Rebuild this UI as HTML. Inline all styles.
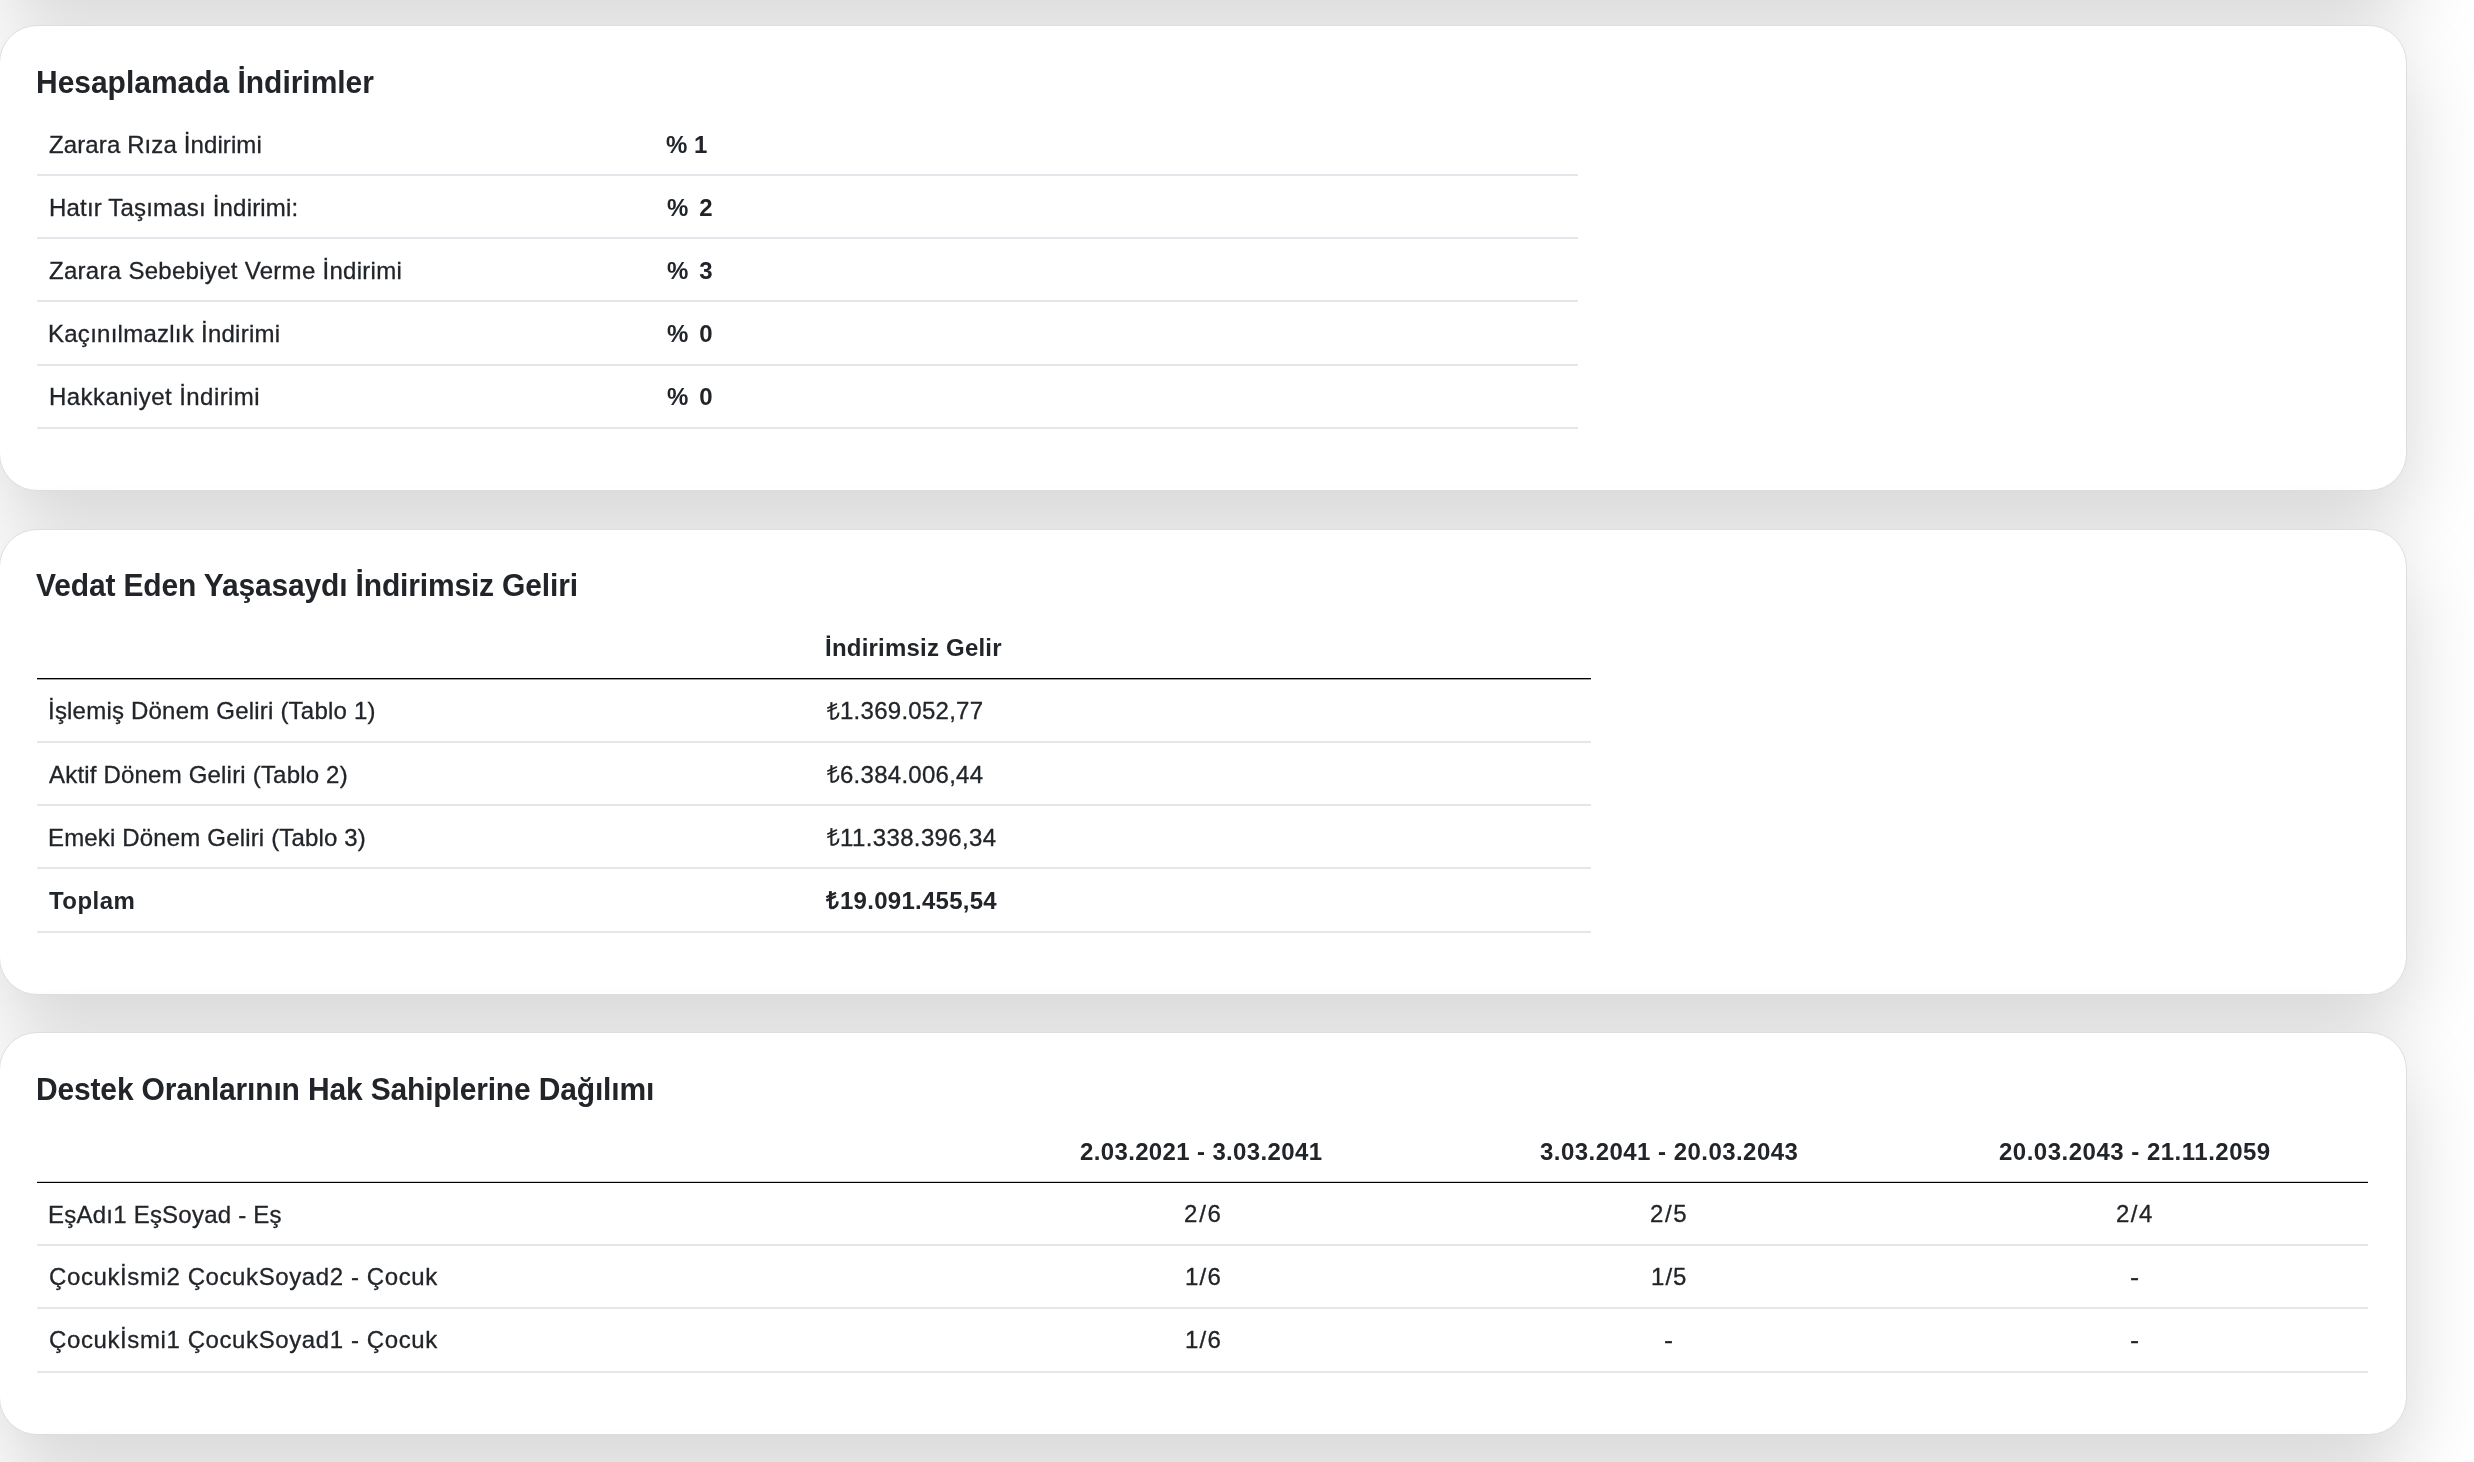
<!DOCTYPE html>
<html lang="tr"><head><meta charset="utf-8"><title>Hesaplama</title>
<style>
html,body{margin:0;padding:0}
body{width:2474px;height:1462px;overflow:hidden;background:#fff;position:relative;font-family:"Liberation Sans",sans-serif;color:#212529}
.card{position:absolute;left:-1px;width:2406px;background:#fff;border:1px solid #dedede;border-radius:38px;box-shadow:0 32px 80px rgba(0,0,0,.17)}
.t{position:absolute;height:40px;line-height:40px;white-space:pre;font-size:24px;color:#212529;transform:scaleY(1.02);transform-origin:0 28px;will-change:transform;-webkit-text-stroke:0.3px #212529}
.b{font-weight:700;-webkit-text-stroke:0}
.h{font-size:30px;transform:scaleY(1.045);transform-origin:0 30px}
.l{position:absolute;height:2px;background:#e3e6ea}
.d{position:absolute;height:2px;background:linear-gradient(#000 0,#000 50%,#a2a2a2 50%,#a2a2a2 100%)}
.d2{position:absolute;height:2px;background:linear-gradient(#cdcdcd 0,#cdcdcd 50%,#000 50%,#000 100%)}
svg{position:absolute;overflow:visible}
</style></head><body>

<div class="card" style="top:-479px;height:464px"></div>
<div class="card" style="top:25px;height:464px"></div>
<div class="card" style="top:529px;height:464px"></div>
<div class="card" style="top:1032px;height:401px"></div>
<div class="card" style="top:1475px;height:464px"></div>
<div class="l" style="left:37px;width:1541px;top:174px"></div>
<div class="l" style="left:37px;width:1541px;top:237px"></div>
<div class="l" style="left:37px;width:1541px;top:300px"></div>
<div class="l" style="left:37px;width:1541px;top:364px"></div>
<div class="l" style="left:37px;width:1541px;top:427px"></div>
<div class="d" style="left:37px;width:1554px;top:678px"></div>
<div class="l" style="left:37px;width:1554px;top:741px"></div>
<div class="l" style="left:37px;width:1554px;top:804px"></div>
<div class="l" style="left:37px;width:1554px;top:867px"></div>
<div class="l" style="left:37px;width:1554px;top:931px"></div>
<div class="d2" style="left:37px;width:2331px;top:1181px"></div>
<div class="l" style="left:37px;width:2331px;top:1244px"></div>
<div class="l" style="left:37px;width:2331px;top:1307px"></div>
<div class="l" style="left:37px;width:2331px;top:1371px"></div>
<div class="t b h" style="left:35.9px;top:63px;letter-spacing:-0.025px">Hesaplamada İndirimler</div>
<div class="t" style="left:49.3px;top:125px;letter-spacing:0.110px">Zarara Rıza İndirimi</div>
<div class="t" style="left:48.8px;top:188px;letter-spacing:0.186px">Hatır Taşıması İndirimi:</div>
<div class="t" style="left:49.3px;top:251px;letter-spacing:0.290px">Zarara Sebebiyet Verme İndirimi</div>
<div class="t" style="left:48.0px;top:314px;letter-spacing:0.257px">Kaçınılmazlık İndirimi</div>
<div class="t" style="left:49.0px;top:377px;letter-spacing:0.439px">Hakkaniyet İndirimi</div>
<div class="t b" style="left:666.2px;top:125px;letter-spacing:-0.032px">% 1</div>
<div class="t b" style="left:666.6px;top:188px;letter-spacing:2.108px">% 2</div>
<div class="t b" style="left:666.6px;top:251px;letter-spacing:2.100px">% 3</div>
<div class="t b" style="left:666.6px;top:314px;letter-spacing:2.124px">% 0</div>
<div class="t b" style="left:666.6px;top:377px;letter-spacing:2.124px">% 0</div>
<div class="t b h" style="left:36.3px;top:566px;letter-spacing:-0.163px">Vedat Eden Yaşasaydı İndirimsiz Geliri</div>
<div class="t b" style="left:825.0px;top:628px;letter-spacing:0.214px">İndirimsiz Gelir</div>
<div class="t" style="left:47.7px;top:691px;letter-spacing:0.208px">İşlemiş Dönem Geliri (Tablo 1)</div>
<div class="t" style="left:48.9px;top:755px;letter-spacing:0.193px">Aktif Dönem Geliri (Tablo 2)</div>
<div class="t" style="left:47.6px;top:818px;letter-spacing:0.162px">Emeki Dönem Geliri (Tablo 3)</div>
<div class="t b" style="left:48.8px;top:881px;letter-spacing:0.467px">Toplam</div>
<div class="t b h" style="left:35.8px;top:1070px;letter-spacing:-0.166px">Destek Oranlarının Hak Sahiplerine Dağılımı</div>
<div class="t" style="left:47.8px;top:1195px;letter-spacing:0.229px">EşAdı1 EşSoyad - Eş</div>
<div class="t" style="left:48.5px;top:1257px;letter-spacing:0.600px">Çocukİsmi2 ÇocukSoyad2 - Çocuk</div>
<div class="t" style="left:48.5px;top:1320px;letter-spacing:0.600px">Çocukİsmi1 ÇocukSoyad1 - Çocuk</div>
<div class="t b" style="left:1080.3px;top:1132px;letter-spacing:0.357px">2.03.2021 - 3.03.2041</div>
<div class="t b" style="left:1539.6px;top:1132px;letter-spacing:0.461px">3.03.2041 - 20.03.2043</div>
<div class="t b" style="left:1999.0px;top:1132px;letter-spacing:0.497px">20.03.2043 - 21.11.2059</div>
<div class="t" style="left:1183.9px;top:1194px;letter-spacing:1.795px">2/6</div>
<div class="t" style="left:1649.7px;top:1194px;letter-spacing:1.576px">2/5</div>
<div class="t" style="left:2115.7px;top:1194px;letter-spacing:1.465px">2/4</div>
<div class="t" style="left:1185.3px;top:1257px;letter-spacing:1.243px">1/6</div>
<div class="t" style="left:1651.0px;top:1257px;letter-spacing:1.040px">1/5</div>
<div class="t" style="left:2129.9px;top:1257px;transform:scale(1.143,1.02)">-</div>
<div class="t" style="left:1185.3px;top:1320px;letter-spacing:1.243px">1/6</div>
<div class="t" style="left:1663.5px;top:1320px;transform:scale(1.129,1.02)">-</div>
<div class="t" style="left:2129.9px;top:1320px;transform:scale(1.143,1.02)">-</div>
<div class="t" style="left:840.2px;top:691px;letter-spacing:0.265px">1.369.052,77</div>
<div class="t" style="left:839.9px;top:755px;letter-spacing:0.266px">6.384.006,44</div>
<div class="t" style="left:840.2px;top:818px;letter-spacing:0.373px">11.338.396,34</div>
<div class="t b" style="left:840.3px;top:881px;letter-spacing:0.265px">19.091.455,54</div>
<svg style="left:826.6px;top:699.5px" width="14" height="21" viewBox="0 0 14 21" fill="none" stroke="#212529"><path d="M4.4 2.1V19.4" stroke-width="2.1"/><path d="M0.3 8.2L10 3.7M0.3 11.6L10 7.2" stroke-width="1.7"/><path d="M4.4 19.0C8.6 19.0 11.4 16.6 11.5 12.4" stroke-width="2.0"/></svg>
<svg style="left:826.6px;top:762.5px" width="14" height="21" viewBox="0 0 14 21" fill="none" stroke="#212529"><path d="M4.4 2.1V19.4" stroke-width="2.1"/><path d="M0.3 8.2L10 3.7M0.3 11.6L10 7.2" stroke-width="1.7"/><path d="M4.4 19.0C8.6 19.0 11.4 16.6 11.5 12.4" stroke-width="2.0"/></svg>
<svg style="left:826.6px;top:825.5px" width="14" height="21" viewBox="0 0 14 21" fill="none" stroke="#212529"><path d="M4.4 2.1V19.4" stroke-width="2.1"/><path d="M0.3 8.2L10 3.7M0.3 11.6L10 7.2" stroke-width="1.7"/><path d="M4.4 19.0C8.6 19.0 11.4 16.6 11.5 12.4" stroke-width="2.0"/></svg>
<svg style="left:826.0px;top:888.5px" width="14" height="21" viewBox="0 0 14 21" fill="none" stroke="#212529"><path d="M4.4 2.1V19.4" stroke-width="2.9"/><path d="M0.3 8.2L10 3.7M0.3 11.6L10 7.2" stroke-width="2.3"/><path d="M4.4 19.0C8.6 19.0 11.4 16.6 11.5 12.4" stroke-width="2.7"/></svg>
</body></html>
